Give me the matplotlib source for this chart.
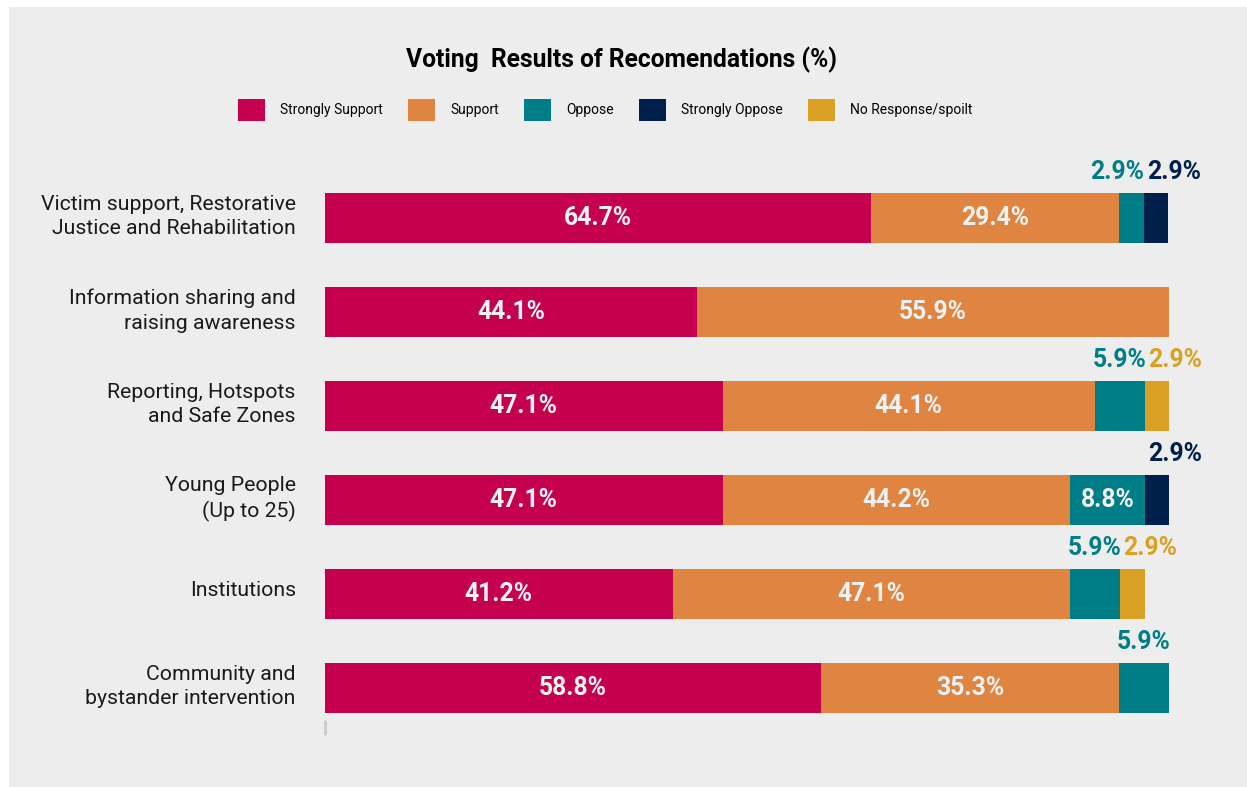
import matplotlib.pyplot as plt
import matplotlib.transforms as mtransforms
from matplotlib.patches import Rectangle, Patch

plt.rcParams['font.family'] = ['Roboto', 'DejaVu Sans']

categories = [
    "Victim support, Restorative\nJustice and Rehabilitation",
    "Information sharing and\nraising awareness",
    "Reporting, Hotspots\nand Safe Zones",
    "Young People\n(Up to 25)",
    "Institutions",
    "Community and\nbystander intervention",
]
series_names = ["Strongly Support", "Support", "Oppose", "Strongly Oppose", "No Response/spoilt"]
strongly_support = [64.7, 44.1, 47.1, 47.1, 41.2, 58.8]
support = [29.4, 55.9, 44.1, 41.2, 47.1, 35.3]
oppose = [2.9, 0, 5.9, 8.8, 5.9, 5.9]
strongly_oppose = [2.9, 0, 0, 2.9, 0, 0]
no_response = [0, 0, 2.9, 0, 2.9, 0]
# the source chart prints 44.2% on this segment although the bar is drawn at 41.2
label_override = {(1, 3): "44.2%"}

colors = ["#C5004E", "#E08441", "#007E88", "#00204B", "#DAA023"]
series = [strongly_support, support, oppose, strongly_oppose, no_response]

fig = plt.figure(figsize=(12.47, 7.87), dpi=100)
fig.patch.set_facecolor("white")
fig.add_artist(Rectangle((9 / 1247, 0), 1, 1 - 7 / 787, transform=fig.transFigure,
                         facecolor="#EDEDED", edgecolor="none", zorder=-10))

ax = fig.add_axes([325 / 1247, 1 - 720 / 787, 844 / 1247, 549 / 787])
ax.set_facecolor("none")

y = list(range(len(categories)))
h = 0.53
left = [0.0] * len(categories)
for s, (vals, col) in enumerate(zip(series, colors)):
    ax.barh(y, vals, left=left, height=h, color=col, label=series_names[s])
    for i, v in enumerate(vals):
        if v <= 0:
            continue
        txt = label_override.get((s, i), f"{v:.1f}%")
        start = left[i]
        if v >= 8:
            ax.text(start + v / 2, i, txt, ha="center", va="center", color="#F2F2F2",
                    fontsize=17.8, fontweight="bold")
        else:
            nxt = [series[k][i] for k in range(s + 1, len(series)) if series[k][i] > 0]
            if v >= 4:
                x, ha = start + v / 2, "center"
            elif nxt and nxt[0] < 8:
                x, ha = start + v, "right"
            else:
                x, ha = start + 0.4, "left"
            ax.text(x, i - 0.49, txt, ha=ha, va="center", color=col,
                    fontsize=17.8, fontweight="bold")
    left = [a + b for a, b in zip(left, vals)]

ax.set_xlim(0, 100)
ax.set_ylim(5.34, -0.5)
ax.set_yticks(y)
ax.set_yticklabels(categories, fontsize=15.3, color="#1a1a1a", linespacing=1.35)
ax.tick_params(axis="y", length=0, pad=21)
shift = mtransforms.ScaledTranslation(0, 6 / 100, fig.dpi_scale_trans)
for lab in ax.get_yticklabels():
    lab.set_transform(lab.get_transform() + shift)
ax.set_xticks([0])
ax.set_xticklabels([""])
ax.tick_params(axis="x", length=11, width=2, color="#C8C8C8")
for sp in ax.spines.values():
    sp.set_visible(False)

fig.text(0.498, 1 - 60 / 787, "Voting  Results of Recomendations (%)", ha="center", va="center",
         fontsize=17.7, fontweight="bold", color="black")

handles = [Patch(facecolor=c, edgecolor="none") for c in colors]
fig.legend(handles, series_names, loc="center", bbox_to_anchor=(605 / 1247, 1 - 110 / 787),
           ncol=5, frameon=False, fontsize=10, handlelength=1.95, handleheight=1.95,
           handletextpad=1.1, columnspacing=1.8)

plt.savefig("out.png", dpi=100)
